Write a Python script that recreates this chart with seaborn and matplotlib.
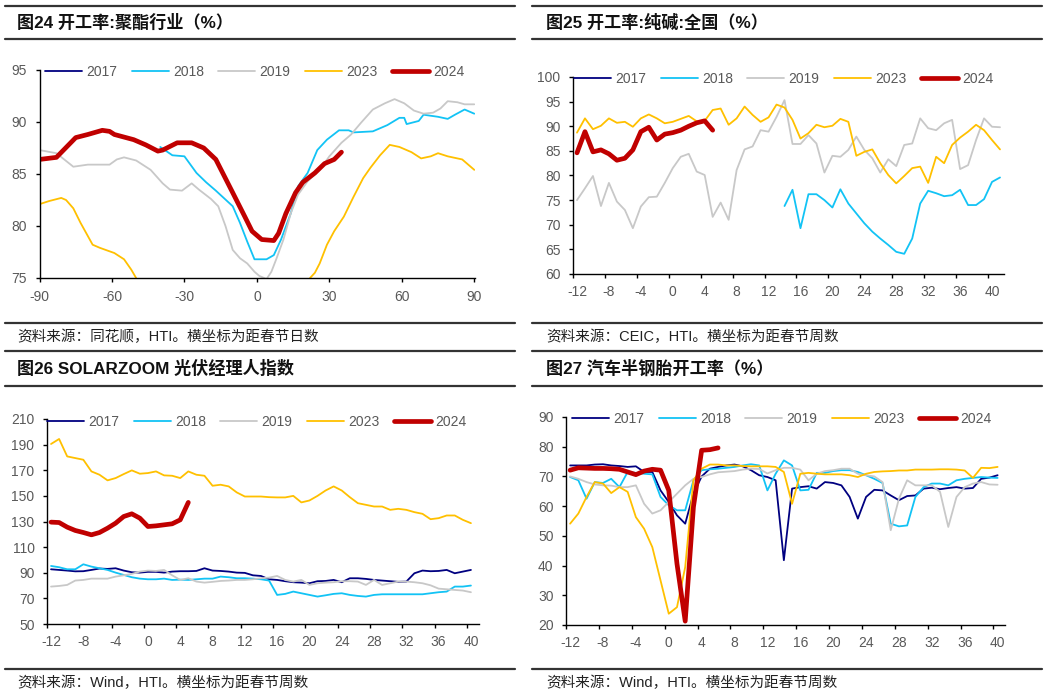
import numpy as np
import pandas as pd
import matplotlib
matplotlib.use("Agg")
import matplotlib.pyplot as plt
import seaborn as sns
from matplotlib.lines import Line2D

# ---------------- data ----------------
YEARS = ["2017", "2018", "2019", "2023", "2024"]
COLORS = {"2017": "#000080", "2018": "#12C3F5", "2019": "#C8C8C8", "2023": "#FFC000", "2024": "#C00000"}

# Panel 1: polyester operating rate, days from Spring Festival
p1_x_2018 = [-40, -35, -30, -25, -21, -17, -10, -7, -4, -1, 4, 7, 10, 14, 17, 21, 25, 29, 34, 38, 40, 48, 54, 59, 61, 62, 67, 69, 75, 79, 82, 86, 90]
p1_y_2018 = [87.6, 86.8, 86.7, 85.1, 84.2, 83.4, 81.9, 80.3, 78.5, 76.8, 76.8, 77.2, 78.7, 81.2, 83.8, 85.1, 87.3, 88.3, 89.2, 89.2, 89.0, 89.1, 89.7, 90.4, 90.4, 89.8, 90.1, 90.7, 90.5, 90.3, 90.7, 91.2, 90.8]
p1_x_2019 = [-90, -83, -76, -70, -61, -58, -55, -50, -44, -39, -36, -31, -27, -24, -19, -16, -13, -10, -7, -4, -1, 1, 4, 6, 8, 11, 14, 17, 21, 26, 30, 35, 39, 43, 48, 53, 57, 61, 65, 69, 73, 76, 79, 83, 86, 90]
p1_y_2019 = [87.3, 87.0, 85.7, 85.9, 85.9, 86.4, 86.6, 86.3, 85.4, 84.1, 83.5, 83.4, 84.1, 83.5, 82.6, 81.9, 80.0, 77.7, 76.9, 76.4, 75.6, 75.2, 74.9, 75.6, 76.8, 78.7, 81.2, 83.0, 84.3, 85.4, 86.7, 88.0, 88.8, 89.9, 91.2, 91.8, 92.2, 91.8, 91.1, 90.8, 90.9, 91.3, 92.0, 91.9, 91.7, 91.7]
p1_x_2023 = [-90, -86, -81, -79, -76, -73, -68, -65, -59, -55, -52, -50, np.nan, 22, 24, 26, 29, 32, 36, 40, 44, 47, 51, 55, 59, 64, 68, 72, 75, 79, 85, 90]
p1_y_2023 = [82.1, 82.4, 82.7, 82.5, 81.7, 80.3, 78.2, 77.9, 77.4, 76.8, 75.8, 75.0, np.nan, 75.0, 75.5, 76.4, 78.2, 79.5, 80.9, 82.8, 84.6, 85.6, 86.8, 87.8, 87.6, 87.1, 86.5, 86.7, 87.0, 86.7, 86.4, 85.4]
p1_x_2024 = [-90, -83, -75, -70, -64, -61, -59, -51, -46, -41, -39, -33, -27, -22, -17, -10, -5, -2, 2, 7, 9, 12, 16, 19, 24, 28, 32, 35]
p1_y_2024 = [86.4, 86.6, 88.5, 88.8, 89.2, 89.1, 88.8, 88.3, 87.8, 87.2, 87.3, 88.0, 88.0, 87.5, 86.4, 83.2, 80.9, 79.5, 78.7, 78.6, 79.3, 81.2, 83.2, 84.2, 85.1, 86.0, 86.4, 87.1]

# Panel 2: soda ash operating rate, weeks -12..41
p2_weeks = list(range(-12, 42))
p2_2018 = [np.nan] * 26 + [73.8, 77.1, 69.3, 76.2, 76.2, 75.0, 73.5, 77.2, 74.3, 72.3, 70.3, 68.6, 67.2, 65.9, 64.5, 64.1, 67.2, 74.3, 76.9, 76.4, 75.8, 76.0, 77.1, 74.0, 74.0, 75.2, 78.7, 79.6]
p2_2019 = [75.0, 77.4, 79.9, 73.8, 78.5, 74.7, 73.0, 69.3, 73.7, 75.6, 75.7, 78.5, 81.5, 83.8, 84.4, 80.8, 80.1, 71.6, 74.5, 71.0, 81.1, 85.3, 85.9, 89.2, 88.9, 91.9, 95.3, 86.4, 86.4, 88.2, 86.5, 80.6, 84.0, 83.8, 85.2, 87.9, 85.2, 83.5, 80.6, 83.3, 81.9, 86.2, 86.5, 91.6, 89.6, 89.2, 90.6, 91.3, 81.3, 82.1, 87.2, 91.6, 89.9, 89.8]
p2_2023 = [88.7, 91.6, 89.4, 90.1, 91.6, 90.7, 90.9, 89.9, 91.6, 92.4, 91.6, 90.6, 90.9, 91.5, 92.1, 91.0, 91.1, 93.3, 93.6, 90.3, 91.6, 94.0, 92.3, 90.9, 91.8, 94.4, 93.8, 91.3, 87.5, 88.6, 90.3, 89.8, 90.1, 91.5, 90.9, 84.0, 84.8, 85.3, 82.5, 80.1, 78.4, 79.9, 81.5, 81.8, 78.5, 83.8, 82.5, 86.2, 87.7, 88.9, 90.3, 89.2, 87.2, 85.3]
p2_2024 = [84.6, 88.9, 84.8, 85.2, 84.4, 83.1, 83.5, 85.2, 88.9, 89.8, 87.2, 88.4, 88.7, 89.2, 90.0, 90.7, 91.1, 89.2] + [np.nan] * 36

# Panel 3: SOLARZOOM PV manager index, weeks -12..40
p3_weeks = list(range(-12, 41))
p3_2017 = [92.7, 92.2, 91.7, 91.1, 91.2, 92.2, 93.3, 93.0, 93.5, 91.7, 90.4, 90.1, 90.7, 90.7, 90.1, 90.9, 91.2, 91.2, 91.4, 93.5, 91.7, 91.4, 90.9, 90.1, 89.9, 88.0, 87.5, 84.9, 84.4, 83.4, 82.6, 82.3, 81.8, 83.4, 83.6, 84.4, 82.6, 85.7, 85.7, 85.2, 84.4, 83.9, 83.4, 82.9, 83.1, 89.6, 91.7, 91.2, 91.4, 92.2, 89.6, 90.9, 92.2]
p3_2018 = [95.3, 94.3, 92.7, 92.7, 96.6, 94.8, 93.5, 92.2, 90.1, 88.3, 86.5, 85.4, 84.9, 84.9, 85.4, 84.4, 84.6, 84.4, 84.9, 85.4, 85.4, 87.0, 86.5, 85.7, 85.7, 85.4, 84.9, 83.9, 72.7, 73.5, 75.3, 74.0, 72.7, 71.4, 72.4, 73.5, 74.0, 72.7, 71.9, 71.4, 72.7, 73.2, 73.2, 73.2, 73.2, 73.2, 73.2, 74.0, 74.8, 75.3, 79.2, 79.2, 80.0]
p3_2019 = [79.2, 79.7, 80.5, 83.9, 84.4, 85.4, 85.4, 85.4, 87.0, 88.0, 89.1, 90.9, 91.7, 91.4, 92.2, 88.0, 84.4, 85.7, 83.1, 82.3, 82.9, 83.6, 83.9, 84.4, 84.4, 84.9, 85.7, 86.2, 87.5, 84.4, 83.1, 84.4, 80.5, 81.8, 82.3, 82.6, 83.4, 83.4, 83.1, 80.5, 84.4, 80.5, 81.8, 83.1, 83.1, 82.6, 81.8, 80.2, 77.6, 77.1, 76.6, 76.1, 74.8]
p3_2023 = [190.5, 194.4, 180.8, 179.5, 178.2, 169.1, 166.5, 162.1, 163.9, 167.0, 169.9, 167.3, 167.8, 169.1, 166.0, 165.7, 163.9, 169.1, 166.5, 165.7, 157.9, 158.7, 157.4, 152.7, 149.5, 149.5, 149.5, 149.0, 148.8, 148.8, 150.0, 144.9, 146.4, 150.0, 154.2, 157.4, 154.2, 149.0, 144.3, 143.0, 141.7, 141.7, 139.1, 139.9, 139.1, 137.3, 136.0, 131.8, 132.6, 134.7, 134.7, 131.3, 128.7]
p3_2024 = [129.5, 129.2, 125.6, 123.0, 121.4, 119.6, 121.4, 124.8, 128.7, 133.9, 136.0, 132.6, 126.1, 126.6, 127.4, 128.2, 131.3, 144.9] + [np.nan] * 35

# Panel 4: semi-steel tyre operating rate, weeks -12..40
p4_weeks = list(range(-12, 41))
p4_2017 = [73.7, 73.7, 73.7, 74.0, 74.1, 73.7, 73.5, 73.2, 73.4, 71.5, 71.5, 65.3, 61.4, 56.9, 54.1, 64.2, 70.0, 72.6, 73.2, 73.7, 74.0, 73.4, 72.1, 70.4, 69.8, 68.7, 41.8, 65.9, 66.4, 66.7, 65.9, 68.1, 67.8, 67.0, 63.1, 55.8, 63.1, 65.5, 65.3, 63.6, 62.0, 63.4, 63.6, 65.9, 66.2, 65.7, 66.1, 66.4, 65.9, 66.1, 69.2, 69.6, 70.4]
p4_2018 = [69.8, 68.7, 62.5, 68.1, 67.8, 69.2, 66.4, 71.5, 71.2, 70.9, 70.7, 63.1, 60.3, 58.6, 58.6, 68.7, 72.1, 72.4, 72.6, 72.9, 73.2, 73.7, 74.1, 73.7, 65.3, 70.9, 75.4, 73.7, 65.3, 65.5, 71.2, 71.2, 71.8, 72.1, 72.1, 71.5, 70.4, 69.2, 67.8, 54.1, 53.2, 53.5, 63.1, 66.4, 67.6, 67.6, 67.0, 68.7, 69.2, 69.5, 69.8, 69.6, 69.5]
p4_2019 = [70.0, 69.2, 68.1, 67.3, 67.0, 66.9, 66.4, 66.4, 67.0, 60.8, 57.5, 58.6, 61.4, 64.2, 67.0, 69.2, 69.8, 70.7, 71.4, 71.6, 71.8, 72.3, 72.6, 72.5, 71.0, 72.1, 72.9, 72.9, 72.3, 68.7, 70.9, 71.8, 72.1, 72.6, 72.6, 70.9, 70.4, 70.0, 68.1, 51.9, 62.5, 68.7, 67.0, 67.0, 67.0, 64.8, 53.0, 63.1, 66.4, 67.6, 68.1, 67.3, 67.2]
p4_2023 = [54.1, 57.5, 63.1, 68.1, 67.6, 64.4, 66.4, 64.8, 56.3, 52.4, 46.2, 35.0, 23.8, 26.0, 39.5, 68.7, 72.6, 74.0, 74.0, 73.7, 73.7, 73.5, 73.4, 73.4, 73.4, 73.2, 71.5, 60.8, 70.9, 71.2, 70.9, 70.7, 70.7, 70.7, 70.4, 69.8, 70.9, 71.5, 71.7, 71.8, 72.0, 72.0, 72.3, 72.3, 72.3, 72.4, 72.4, 72.3, 72.0, 69.5, 72.9, 72.8, 73.2]
p4_2024 = [72.1, 72.9, 72.8, 72.7, 72.7, 72.6, 72.4, 71.5, 70.6, 71.8, 72.4, 72.1, 65.3, 40.6, 21.3, 59.7, 78.8, 79.0, 79.6] + [np.nan] * 34

TITLES = ["图24 开工率:聚酯行业（%）", "图25 开工率:纯碱:全国（%）",
          "图26 SOLARZOOM 光伏经理人指数", "图27 汽车半钢胎开工率（%）"]
SOURCES = ["资料来源：同花顺，HTI。横坐标为距春节日数", "资料来源：CEIC，HTI。横坐标为距春节周数",
           "资料来源：Wind，HTI。横坐标为距春节周数", "资料来源：Wind，HTI。横坐标为距春节周数"]

# ---------------- style ----------------
sns.set_theme(style="ticks")
FAMILY = ['Liberation Sans', 'Noto Sans CJK SC', 'DejaVu Sans']
plt.rcParams['font.family'] = FAMILY
plt.rcParams['axes.unicode_minus'] = False

W, H = 1050, 696
fig = plt.figure(figsize=(W / 100, H / 100), dpi=100)
fig.patch.set_facecolor("white")
LABEL_C = "#595959"


def px_axes(l, t, r, b):
    return fig.add_axes([l / W, 1 - b / H, (r - l) / W, (b - t) / H])


def draw_series(ax, series):
    for yr in YEARS:
        if yr not in series:
            continue
        xs, ys = series[yr]
        df = pd.DataFrame({"x": np.asarray(xs, float), "y": np.asarray(ys, float)})
        df["seg"] = df["y"].isna().cumsum()
        df = df.dropna()
        lw = 3.4 if yr == "2024" else 1.3
        sns.lineplot(data=df, x="x", y="y", units="seg", estimator=None, sort=False,
                     color=COLORS[yr], linewidth=lw, ax=ax, legend=False,
                     solid_capstyle="round", solid_joinstyle="round")


def style_axes(ax, ylim, yticks):
    ax.set_ylim(*ylim)
    ax.set_yticks(yticks)
    ax.set_xlabel("")
    ax.set_ylabel("")
    sns.despine(ax=ax)
    for s in ["left", "bottom"]:
        ax.spines[s].set_color("black")
        ax.spines[s].set_linewidth(1.0)
    ax.tick_params(axis="both", which="major", direction="out", length=3, width=1.0,
                   color="black", labelsize=10, labelcolor=LABEL_C)
    ax.tick_params(axis="y", pad=6)
    ax.tick_params(axis="x", pad=5)
    ax.set_facecolor("white")
    ax.grid(False)


def category_xaxis(ax, lo, hi, labels):
    ax.set_xlim(lo, hi)
    ax.set_xticks([v - 0.5 for v in labels])
    ax.set_xticklabels([""] * len(labels))
    ax.set_xticks(labels, minor=True)
    ax.set_xticklabels([str(v) for v in labels], minor=True)
    ax.tick_params(axis="x", which="minor", length=0, labelsize=10, labelcolor=LABEL_C, pad=8)


def add_legend(ax, x_px, y_px):
    handles = [Line2D([], [], color=COLORS[y], lw=(3.4 if y == "2024" else 1.3)) for y in YEARS]
    ax.legend(handles, YEARS, loc="center left", bbox_to_anchor=(x_px / W, 1 - y_px / H),
              bbox_transform=fig.transFigure, ncol=5, frameon=False, handlelength=2.66,
              handletextpad=0.3, columnspacing=1.05, borderpad=0, borderaxespad=0,
              fontsize=10, labelcolor=LABEL_C)


def rule(y_px, x0, x1):
    fig.add_artist(Line2D([x0 / W, x1 / W], [1 - y_px / H] * 2, color="#333333", lw=1.6))


# ---------------- panel 1 ----------------
ax1 = px_axes(39.5, 70, 475, 278)
draw_series(ax1, {"2018": (p1_x_2018, p1_y_2018), "2019": (p1_x_2019, p1_y_2019),
                  "2023": (p1_x_2023, p1_y_2023), "2024": (p1_x_2024, p1_y_2024)})
style_axes(ax1, (75, 95), [75, 80, 85, 90, 95])
ax1.set_xlim(-90, 90.3)
ax1.set_xticks([-90, -60, -30, 0, 30, 60, 90])
ax1.tick_params(axis="x", pad=6)
add_legend(ax1, 45, 72)

# ---------------- panel 2 ----------------
ax2 = px_axes(573, 77, 1004, 274)
draw_series(ax2, {"2018": (p2_weeks, p2_2018), "2019": (p2_weeks, p2_2019),
                  "2023": (p2_weeks, p2_2023), "2024": (p2_weeks, p2_2024)})
style_axes(ax2, (60, 100), list(range(60, 101, 5)))
category_xaxis(ax2, -12.5, 41.5, list(range(-12, 41, 4)))
add_legend(ax2, 574, 79)

# ---------------- panel 3 ----------------
ax3 = px_axes(47, 419, 479, 624)
draw_series(ax3, {"2017": (p3_weeks, p3_2017), "2018": (p3_weeks, p3_2018), "2019": (p3_weeks, p3_2019),
                  "2023": (p3_weeks, p3_2023), "2024": (p3_weeks, p3_2024)})
style_axes(ax3, (50, 210), list(range(50, 211, 20)))
category_xaxis(ax3, -12.5, 41.0, list(range(-12, 41, 4)))
add_legend(ax3, 47, 422)

# ---------------- panel 4 ----------------
ax4 = px_axes(566, 417, 1005, 625)
draw_series(ax4, {"2017": (p4_weeks, p4_2017), "2018": (p4_weeks, p4_2018), "2019": (p4_weeks, p4_2019),
                  "2023": (p4_weeks, p4_2023), "2024": (p4_weeks, p4_2024)})
style_axes(ax4, (20, 90), list(range(20, 91, 10)))
category_xaxis(ax4, -12.5, 40.9, list(range(-12, 41, 4)))
add_legend(ax4, 572, 419)

# ---------------- frame, titles, sources ----------------
for (x0, x1, tx) in [(5, 515, 17), (532, 1042, 546)]:
    rule(5.5, x0, x1)
    rule(39, x0, x1)
    rule(322.5, x0, x1)
    rule(351, x0, x1)
    rule(386, x0, x1)
    rule(669, x0, x1)

title_pos = [(17, 22), (546, 22), (17, 368), (546, 368)]
source_pos = [(17, 337), (546, 337), (17, 683), (546, 683)]
for t, (x, y) in zip(TITLES, title_pos):
    fig.text(x / W, 1 - y / H, t, fontsize=12.3, fontweight="bold", ha="left", va="center",
             color="#111111", family=FAMILY)
for s, (x, y) in zip(SOURCES, source_pos):
    fig.text(x / W, 1 - y / H, s, fontsize=10.5, ha="left", va="center", color="#222222",
             family=FAMILY)

fig.savefig("out.png", dpi=100, facecolor="white")
